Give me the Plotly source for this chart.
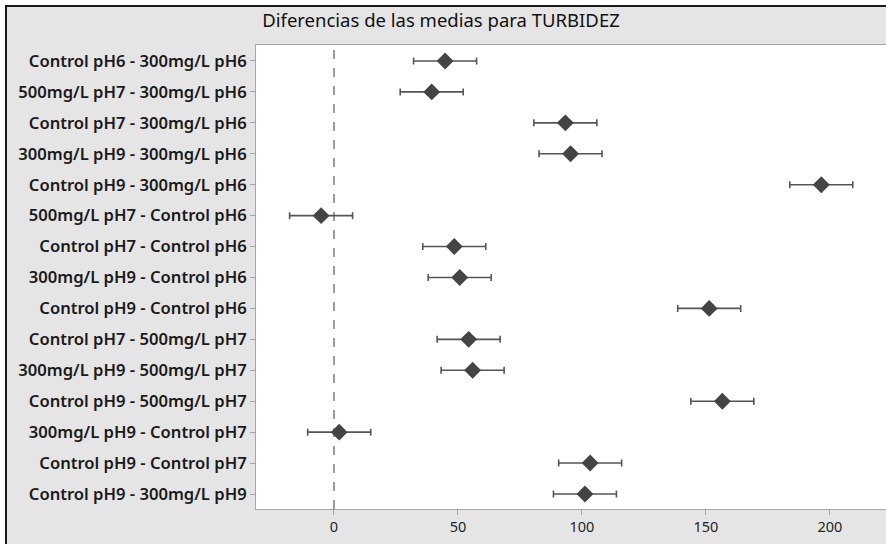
import plotly.graph_objects as go

comparisons = [
    "Control pH6 - 300mg/L pH6",
    "500mg/L pH7 - 300mg/L pH6",
    "Control pH7 - 300mg/L pH6",
    "300mg/L pH9 - 300mg/L pH6",
    "Control pH9 - 300mg/L pH6",
    "500mg/L pH7 - Control pH6",
    "Control pH7 - Control pH6",
    "300mg/L pH9 - Control pH6",
    "Control pH9 - Control pH6",
    "Control pH7 - 500mg/L pH7",
    "300mg/L pH9 - 500mg/L pH7",
    "Control pH9 - 500mg/L pH7",
    "300mg/L pH9 - Control pH7",
    "Control pH9 - Control pH7",
    "Control pH9 - 300mg/L pH9",
]
diff_mean = [44.8, 39.4, 93.3, 95.4, 196.5, -5.2, 48.5, 50.7, 151.3, 54.3, 55.9, 156.6, 2.1, 103.3, 101.2]
ci_lower = [32.1, 26.7, 80.6, 82.7, 183.8, -17.9, 35.8, 38.0, 138.6, 41.6, 43.2, 143.9, -10.6, 90.6, 88.5]
ci_upper = [57.5, 52.1, 106.0, 108.1, 209.2, 7.5, 61.2, 63.4, 164.0, 67.0, 68.6, 169.3, 14.8, 116.0, 113.9]
x_ticks = [0, 50, 100, 150, 200]
title_text = "Diferencias de las medias para TURBIDEZ"

W, H = 886, 544
ML, MR, MT, MB = 256, 0, 45, 35
PW, PH = W - ML - MR, H - MT - MB

rows = list(range(len(comparisons)))
err_plus = [u - m for u, m in zip(ci_upper, diff_mean)]
err_minus = [m - l for m, l in zip(diff_mean, ci_lower)]

fig = go.Figure()
fig.add_trace(go.Scatter(
    x=diff_mean, y=rows, mode="markers",
    marker=dict(symbol="diamond", size=13, color="#444444", line=dict(width=0)),
    error_x=dict(type="data", symmetric=False, array=err_plus, arrayminus=err_minus,
                 color="#555555", thickness=1.6, width=3.5),
    showlegend=False, hoverinfo="skip",
))

def px_x(px):
    return (px - ML) / PW

def px_y(py):
    return (H - MB - py) / PH

shapes = [
    dict(type="line", xref="x", yref="paper", x0=0, x1=0, y0=0, y1=1,
         line=dict(color="#666666", width=1.3, dash="dash"), layer="below"),
    dict(type="rect", xref="paper", yref="paper", x0=px_x(0), x1=px_x(5), y0=px_y(544), y1=px_y(0),
         fillcolor="white", line=dict(width=0), layer="above"),
    dict(type="rect", xref="paper", yref="paper", x0=px_x(0), x1=px_x(886), y0=px_y(5), y1=px_y(0),
         fillcolor="white", line=dict(width=0), layer="above"),
    dict(type="rect", xref="paper", yref="paper", x0=px_x(5), x1=px_x(7), y0=px_y(544), y1=px_y(5),
         fillcolor="#1a1a1a", line=dict(width=0), layer="above"),
    dict(type="rect", xref="paper", yref="paper", x0=px_x(5), x1=px_x(886), y0=px_y(7), y1=px_y(5),
         fillcolor="#1a1a1a", line=dict(width=0), layer="above"),
]

fig.update_layout(
    width=W, height=H,
    margin=dict(l=ML, r=MR, t=MT, b=MB, pad=0),
    paper_bgcolor="#e5e5e5", plot_bgcolor="white",
    title=dict(text=title_text, xref="container", yref="container", x=441 / W, y=1 - 21 / H,
               xanchor="center", yanchor="middle",
               font=dict(family="Noto Sans", size=18.5, color="#111111")),
    shapes=shapes,
    xaxis=dict(range=[-31.45, 222.6], tickvals=x_ticks, ticktext=[str(v) for v in x_ticks],
               showgrid=False, zeroline=False, showline=True, linecolor="#a6a6a6", linewidth=1,
               mirror=True, ticks="outside", ticklen=5, tickcolor="#a6a6a6", tickwidth=1,
               tickfont=dict(family="Noto Sans", size=14.5, color="#222222")),
    yaxis=dict(range=[14.485, -0.517], tickvals=rows, ticktext=comparisons,
               showgrid=False, zeroline=False, showline=True, linecolor="#a6a6a6", linewidth=1,
               mirror=True, ticks="outside", ticklen=5, tickcolor="#a6a6a6", tickwidth=1,
               tickfont=dict(family="Noto Sans", size=16.6, color="#1a1a1a", weight=600)),
)

fig.write_html("out.html")
